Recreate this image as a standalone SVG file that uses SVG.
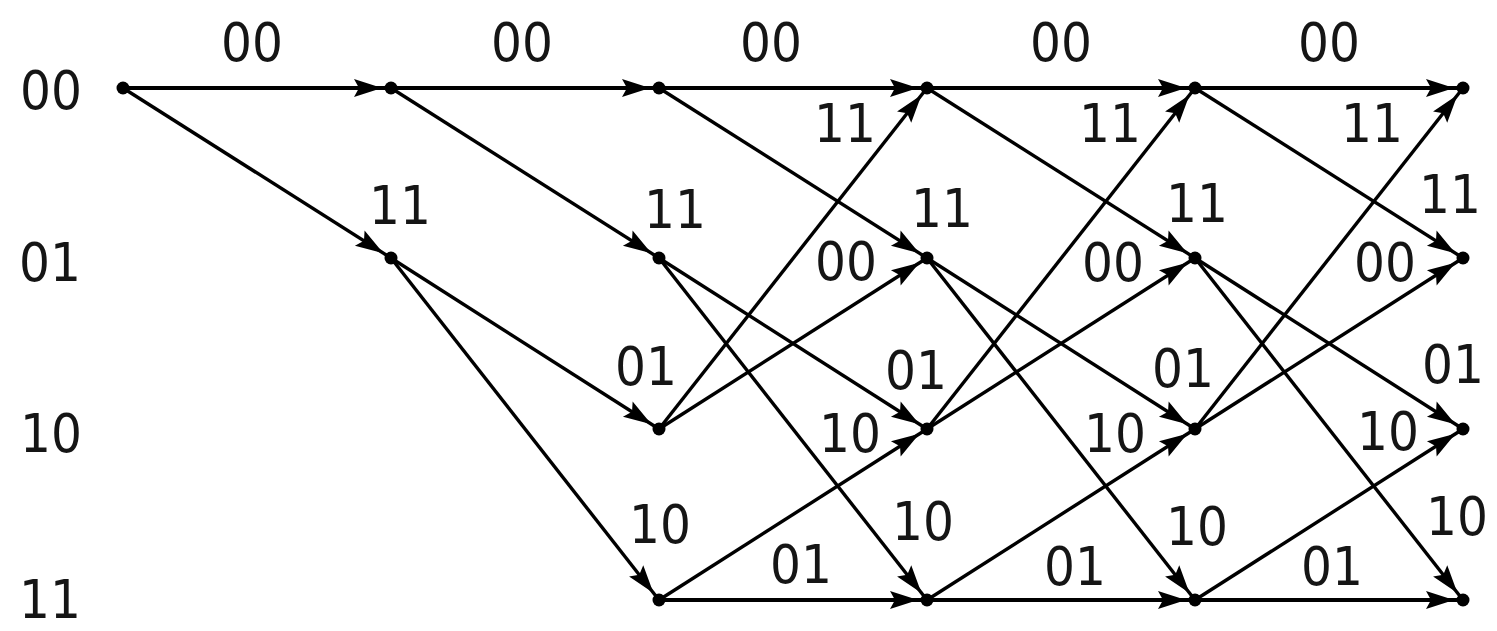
<svg xmlns="http://www.w3.org/2000/svg" width="1497" height="631" viewBox="0 0 1497 631">
<style>
.e{stroke:#000;stroke-width:3.4;fill:none;marker-end:url(#ah)}
.h{stroke-width:4}
.n{fill:#000}
text{font-family:"DejaVu Sans","Liberation Sans",sans-serif;font-size:54px;fill:#151515;text-anchor:middle}
</style>
<defs>
<marker id="ah" viewBox="0 0 28 18" markerWidth="28" markerHeight="18" refX="37" refY="9" orient="auto" markerUnits="userSpaceOnUse" overflow="visible">
<path d="M0,0 L28,9 L0,18 L5,9 Z" fill="#000"/>
</marker>
</defs>
<rect width="1497" height="631" fill="#fff"/>
<g id="state-labels">
<text x="51" y="109" textLength="62" lengthAdjust="spacingAndGlyphs">00</text>
<text x="50" y="281" textLength="62" lengthAdjust="spacingAndGlyphs">01</text>
<text x="51" y="452" textLength="62" lengthAdjust="spacingAndGlyphs">10</text>
<text x="50" y="618" textLength="62" lengthAdjust="spacingAndGlyphs">11</text>
</g>
<g id="connectors">
<line class="e h" x1="123" y1="88" x2="391" y2="88"/>
<line class="e" x1="123" y1="88" x2="391" y2="258"/>
<line class="e h" x1="391" y1="88" x2="659" y2="88"/>
<line class="e" x1="391" y1="88" x2="659" y2="258"/>
<line class="e" x1="391" y1="258" x2="659" y2="429"/>
<line class="e" x1="391" y1="258" x2="659" y2="600"/>
<line class="e h" x1="659" y1="88" x2="927" y2="88"/>
<line class="e" x1="659" y1="88" x2="927" y2="258"/>
<line class="e" x1="659" y1="258" x2="927" y2="429"/>
<line class="e" x1="659" y1="258" x2="927" y2="600"/>
<line class="e" x1="659" y1="429" x2="927" y2="88"/>
<line class="e" x1="659" y1="429" x2="927" y2="258"/>
<line class="e" x1="659" y1="600" x2="927" y2="429"/>
<line class="e h" x1="659" y1="600" x2="927" y2="600"/>
<line class="e h" x1="927" y1="88" x2="1195" y2="88"/>
<line class="e" x1="927" y1="88" x2="1195" y2="258"/>
<line class="e" x1="927" y1="258" x2="1195" y2="429"/>
<line class="e" x1="927" y1="258" x2="1195" y2="600"/>
<line class="e" x1="927" y1="429" x2="1195" y2="88"/>
<line class="e" x1="927" y1="429" x2="1195" y2="258"/>
<line class="e" x1="927" y1="600" x2="1195" y2="429"/>
<line class="e h" x1="927" y1="600" x2="1195" y2="600"/>
<line class="e h" x1="1195" y1="88" x2="1463" y2="88"/>
<line class="e" x1="1195" y1="88" x2="1463" y2="258"/>
<line class="e" x1="1195" y1="258" x2="1463" y2="429"/>
<line class="e" x1="1195" y1="258" x2="1463" y2="600"/>
<line class="e" x1="1195" y1="429" x2="1463" y2="88"/>
<line class="e" x1="1195" y1="429" x2="1463" y2="258"/>
<line class="e" x1="1195" y1="600" x2="1463" y2="429"/>
<line class="e h" x1="1195" y1="600" x2="1463" y2="600"/>
</g>
<g id="edge-labels">
<text x="252" y="61" textLength="62" lengthAdjust="spacingAndGlyphs">00</text>
<text x="522" y="61" textLength="62" lengthAdjust="spacingAndGlyphs">00</text>
<text x="771" y="61" textLength="62" lengthAdjust="spacingAndGlyphs">00</text>
<text x="1061" y="61" textLength="62" lengthAdjust="spacingAndGlyphs">00</text>
<text x="1329" y="61" textLength="62" lengthAdjust="spacingAndGlyphs">00</text>
<text x="400" y="224" textLength="62" lengthAdjust="spacingAndGlyphs">11</text>
<text x="675" y="228" textLength="62" lengthAdjust="spacingAndGlyphs">11</text>
<text x="646" y="385" textLength="62" lengthAdjust="spacingAndGlyphs">01</text>
<text x="660" y="543" textLength="62" lengthAdjust="spacingAndGlyphs">10</text>
<text x="845" y="142" textLength="62" lengthAdjust="spacingAndGlyphs">11</text>
<text x="942" y="227" textLength="62" lengthAdjust="spacingAndGlyphs">11</text>
<text x="846" y="280" textLength="62" lengthAdjust="spacingAndGlyphs">00</text>
<text x="916" y="389" textLength="62" lengthAdjust="spacingAndGlyphs">01</text>
<text x="850" y="452" textLength="62" lengthAdjust="spacingAndGlyphs">10</text>
<text x="923" y="540" textLength="62" lengthAdjust="spacingAndGlyphs">10</text>
<text x="801" y="583" textLength="62" lengthAdjust="spacingAndGlyphs">01</text>
<text x="1110" y="142" textLength="62" lengthAdjust="spacingAndGlyphs">11</text>
<text x="1197" y="222" textLength="62" lengthAdjust="spacingAndGlyphs">11</text>
<text x="1113" y="281" textLength="62" lengthAdjust="spacingAndGlyphs">00</text>
<text x="1183" y="387" textLength="62" lengthAdjust="spacingAndGlyphs">01</text>
<text x="1115" y="452" textLength="62" lengthAdjust="spacingAndGlyphs">10</text>
<text x="1197" y="545" textLength="62" lengthAdjust="spacingAndGlyphs">10</text>
<text x="1075" y="585" textLength="62" lengthAdjust="spacingAndGlyphs">01</text>
<text x="1372" y="142" textLength="62" lengthAdjust="spacingAndGlyphs">11</text>
<text x="1450" y="213" textLength="62" lengthAdjust="spacingAndGlyphs">11</text>
<text x="1385" y="281" textLength="62" lengthAdjust="spacingAndGlyphs">00</text>
<text x="1453" y="383" textLength="62" lengthAdjust="spacingAndGlyphs">01</text>
<text x="1388" y="450" textLength="62" lengthAdjust="spacingAndGlyphs">10</text>
<text x="1457" y="535" textLength="62" lengthAdjust="spacingAndGlyphs">10</text>
<text x="1332" y="585" textLength="62" lengthAdjust="spacingAndGlyphs">01</text>
</g>
<g id="n0-00"><circle class="n" cx="123" cy="88" r="6.5"/></g>
<g id="n1-00"><circle class="n" cx="391" cy="88" r="6.5"/></g>
<g id="n1-01"><circle class="n" cx="391" cy="258" r="6.5"/></g>
<g id="n2-00"><circle class="n" cx="659" cy="88" r="6.5"/></g>
<g id="n2-01"><circle class="n" cx="659" cy="258" r="6.5"/></g>
<g id="n2-10"><circle class="n" cx="659" cy="429" r="6.5"/></g>
<g id="n2-11"><circle class="n" cx="659" cy="600" r="6.5"/></g>
<g id="n3-00"><circle class="n" cx="927" cy="88" r="6.5"/></g>
<g id="n3-01"><circle class="n" cx="927" cy="258" r="6.5"/></g>
<g id="n3-10"><circle class="n" cx="927" cy="429" r="6.5"/></g>
<g id="n3-11"><circle class="n" cx="927" cy="600" r="6.5"/></g>
<g id="n4-00"><circle class="n" cx="1195" cy="88" r="6.5"/></g>
<g id="n4-01"><circle class="n" cx="1195" cy="258" r="6.5"/></g>
<g id="n4-10"><circle class="n" cx="1195" cy="429" r="6.5"/></g>
<g id="n4-11"><circle class="n" cx="1195" cy="600" r="6.5"/></g>
<g id="n5-00"><circle class="n" cx="1463" cy="88" r="6.5"/></g>
<g id="n5-01"><circle class="n" cx="1463" cy="258" r="6.5"/></g>
<g id="n5-10"><circle class="n" cx="1463" cy="429" r="6.5"/></g>
<g id="n5-11"><circle class="n" cx="1463" cy="600" r="6.5"/></g>
</svg>
